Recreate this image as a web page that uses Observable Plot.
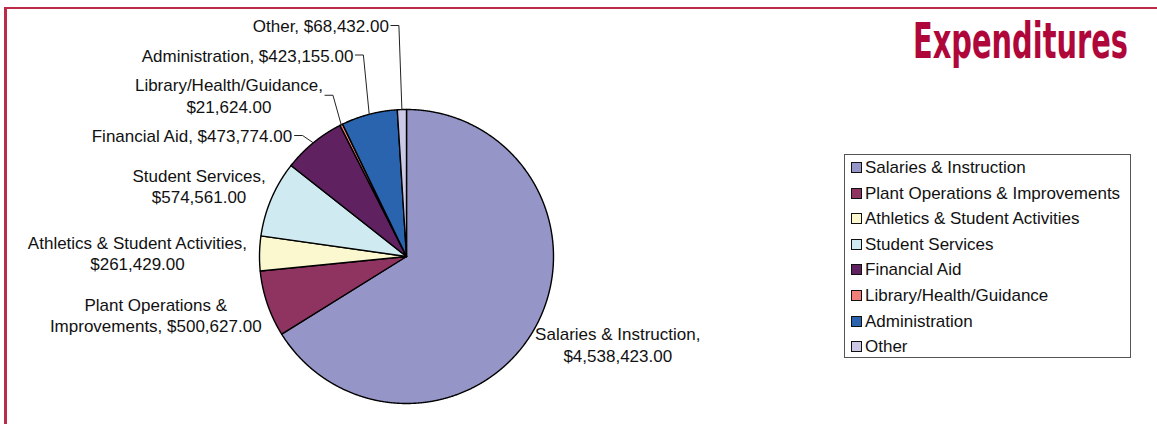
<!DOCTYPE html>
<html><head><meta charset="utf-8">
<script src="https://cdn.jsdelivr.net/npm/d3@7"></script>
<script src="https://cdn.jsdelivr.net/npm/@observablehq/plot@0.6"></script>
<style>
html,body{margin:0;padding:0;background:#fff;width:1157px;height:424px;overflow:hidden;}
#wrap{position:relative;width:1157px;height:424px;}
#chart{position:absolute;left:0;top:0;}
.bt{position:absolute;left:4px;top:6.5px;width:1153px;height:2.5px;background:#bc2b48;}
.bl{position:absolute;left:4px;top:6.5px;width:2.5px;height:418px;background:#bc2b48;}
#titlesvg{position:absolute;left:0;top:0;overflow:visible;}
#legend{position:absolute;left:844px;top:154px;width:285px;height:202px;border:1px solid #555;box-sizing:content-box;font-family:"Liberation Sans",Arial,sans-serif;font-size:17px;color:#111;}
.li{position:absolute;left:0;height:20px;line-height:20px;white-space:nowrap;}
.sw{position:absolute;left:6px;top:4px;width:9px;height:9px;border:1.2px solid #111;}
.lt{position:absolute;left:20px;top:0;}
</style>
</head><body>
<div id="wrap">
  <div id="chart"></div>
  <div class="bt"></div><div class="bl"></div>
  <svg id="titlesvg" width="1157" height="100"><text id="title" x="0" y="0" font-family="'DejaVu Sans Condensed', 'DejaVu Sans', 'Liberation Sans', sans-serif" font-stretch="condensed" font-weight="bold" font-size="49" fill="#b0073a">Expenditures</text></svg>
  <div id="legend"></div>
</div>
<script>
// ---- data ----
const categories = ["Salaries & Instruction","Plant Operations & Improvements","Athletics & Student Activities","Student Services","Financial Aid","Library/Health/Guidance","Administration","Other"];
const amounts = [4538423,500627,261429,574561,473774,21624,423155,68432];
const colors = ["#9595c8","#8f3360","#fbf8cf","#cfebf1","#5f2160","#f07f7a","#2a64ae","#cbc9e6"];

// ---- title fit ----
(function () {
  const t = document.getElementById("title");
  const w = t.getComputedTextLength() || 290;
  const target = 215;
  t.setAttribute("transform", `translate(${1128 - target},58) scale(${target / w},1)`);
})();

// ---- layout ----
const W = 1157, H = 424, CX = 406, CY = 256, R = 147;
const FONT = "17px 'Liberation Sans'", LH = 21.5, WRAP = 226;
const ux = px => (px - CX) / R, uy = py => (CY - py) / R;

const ctx = document.createElement("canvas").getContext("2d");
ctx.font = FONT;
const tw = s => ctx.measureText(s).width;
const fmt = v => "$" + d3.format(",.2f")(v);
function wrap(str) {
  const words = str.split(" "); const lines = []; let cur = "";
  for (const w of words) {
    const t = cur ? cur + " " + w : w;
    if (cur && tw(t) > WRAP) { lines.push(cur); cur = w; } else cur = t;
  }
  lines.push(cur); return lines;
}

const arcs = d3.pie().sort(null).value(d => d)(amounts);

// slice outlines
const slicePts = [];
arcs.forEach((a, i) => {
  const cat = categories[i];
  slicePts.push({cat, x: 0, y: 0});
  const n = Math.max(2, Math.ceil((a.endAngle - a.startAngle) / (Math.PI / 720)) + 1);
  for (let k = 0; k < n; k++) {
    const t = a.startAngle + (a.endAngle - a.startAngle) * k / (n - 1);
    slicePts.push({cat, x: Math.sin(t), y: Math.cos(t)});
  }
  slicePts.push({cat, x: 0, y: 0});
});

// labels
const labels = [], leaders = [];
const tops = [];
arcs.forEach((a, i) => {
  const m = (a.startAngle + a.endAngle) / 2;
  const lines = wrap(categories[i] + ", " + fmt(amounts[i]));
  const w = d3.max(lines, tw), h = lines.length * LH;
  const px = CX + R * Math.sin(m), py = CY - R * Math.cos(m);
  const item = {i, m, lines, w, h, px, py};
  if (m > 2 * Math.PI - Math.PI / 4 || m < Math.PI / 4) { tops.push(item); return; }
  const d = 12, uxv = Math.sin(m), uyv = -Math.cos(m);
  const cx = px + uxv * (w / 2 + d), cy = py + uyv * (h / 2 + d);
  labels.push({text: lines.join("\n"), x: ux(cx), y: uy(cy)});
});
tops.sort((a, b) => b.m - a.m);
let yLine = 25;
for (const t of tops) {
  const n = t.lines.length;
  const cy = yLine + (n - 1) * LH / 2;
  yLine += (n - 1) * LH + 29.5;
  const right = CX + 1.087 * R * Math.sin(t.m) - 12.6;
  labels.push({text: t.lines.join("\n"), x: ux(right - t.w / 2), y: uy(cy)});
  const cat = categories[t.i];
  leaders.push({cat, x: ux(right + 2), y: uy(cy)});
  leaders.push({cat, x: ux(right + 10), y: uy(cy)});
  leaders.push({cat, x: ux(t.px), y: uy(t.py)});
}

const plot = Plot.plot({
  width: W, height: H, margin: 0,
  x: {domain: [ux(0), ux(W)], axis: null},
  y: {domain: [uy(H), uy(0)], axis: null},
  color: {domain: categories, range: colors},
  style: {background: "transparent", overflow: "visible"},
  marks: [
    Plot.line(slicePts, {x: "x", y: "y", z: "cat", fill: "cat", stroke: "#000", strokeWidth: 1.4, strokeLinejoin: "round", curve: "linear"}),
    Plot.line(leaders, {x: "x", y: "y", z: "cat", stroke: "#222", strokeWidth: 1, curve: "linear"}),
    Plot.text(labels, {x: "x", y: "y", text: "text", textAnchor: "middle", lineAnchor: "middle", lineHeight: LH / 17, fontSize: 17, fontFamily: "Liberation Sans", fill: "#111"})
  ]
});
document.getElementById("chart").appendChild(plot);

// legend from the plot's color scale
const cs = plot.scale("color");
const leg = document.getElementById("legend");
categories.forEach((c, i) => {
  const row = document.createElement("div");
  row.className = "li";
  row.style.top = (13 + i * 25.6 - 10) + "px";
  row.innerHTML = `<span class="sw" style="background:${cs.apply(c)}"></span><span class="lt"></span>`;
  row.querySelector(".lt").textContent = c;
  leg.appendChild(row);
});
</script>
</body></html>
